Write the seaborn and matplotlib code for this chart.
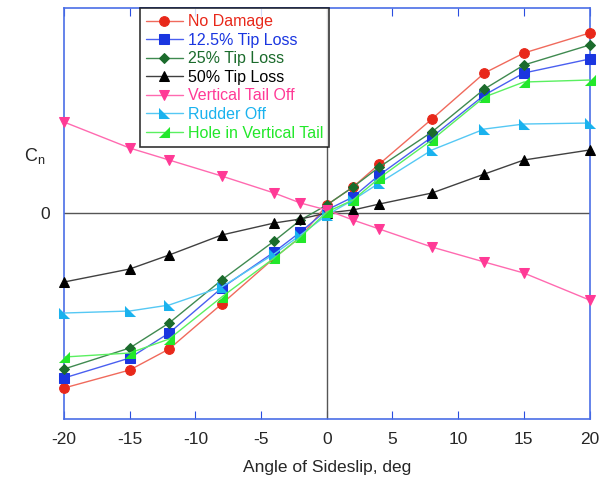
import numpy as np
import pandas as pd
import matplotlib
matplotlib.use('Agg')
import matplotlib.pyplot as plt
import seaborn as sns

# Data (Cn in arbitrary units)
beta = [-20, -15, -12, -8, -4, -2, 0, 2, 4, 8, 12, 15, 20]

no_damage = [-175, -157, -136, -91, -45, -24, 8, 26, 49, 94, 140, 160, 180]
tip_12 = [-165, -145, -120, -75, -39, -19, 3, 16, 38, 76, 118, 140, 154]
tip_25 = [-156, -135, -110, -67, -28, -7, 8, 26, 46, 81, 124, 148, 168]
tip_50 = [-69, -56, -42, -22, -10, -6, 0, 3, 9, 20, 39, 53, 63]
tail_off = [91, 65, 53, 37, 20, 10, 3, -7, -16, -34, -49, -60, -87]
rudder_off = [-100, -98, -92, -74, -41, -22, -2, 13, 30, 63, 84, 89, 90]
hole_tail = [-144, -140, -126, -84, -45, -24, 1, 13, 35, 73, 116, 131, 133]

labels = ['No Damage', '12.5% Tip Loss', '25% Tip Loss', '50% Tip Loss',
          'Vertical Tail Off', 'Rudder Off', 'Hole in Vertical Tail']
series = [no_damage, tip_12, tip_25, tip_50, tail_off, rudder_off, hole_tail]
colors = ['#e8281a', '#1a36e0', '#1b6b2c', '#000000', '#ff3a96', '#1ab2ee', '#22e82a']
line_colors = ['#f06a5c', '#4a5ff0', '#3f8a50', '#404040', '#ff6ab0', '#55c8f4', '#5af060']
markers = ['o', 's', 'D', '^', 'v',
           [(-1, 1), (-1, -1), (1, -1)],
           [(-1, -1), (1, -1), (1, 1)]]
msizes = [7, 6.5, 5.5, 7, 7, 7.5, 7.5]

sns.set_style('white')
plt.rcParams['font.family'] = ['Liberation Sans', 'DejaVu Sans']
plt.rcParams['axes.unicode_minus'] = False

fig = plt.figure(figsize=(6.05, 4.78), dpi=100)
ax = fig.add_axes([0.1058, 0.1234, 0.8686, 0.8598])

ax.axhline(0, color='#555555', lw=1, zorder=1)
ax.axvline(0, color='#555555', lw=1, zorder=1)

for lab, vals, c, lc, m, ms in zip(labels, series, colors, line_colors, markers, msizes):
    df = pd.DataFrame({'beta': beta, 'cn': vals})
    sns.lineplot(data=df, x='beta', y='cn', ax=ax, color=lc, lw=1,
                 marker=m, markersize=ms, markerfacecolor=c,
                 markeredgecolor=c, label=lab, zorder=3, clip_on=False)

ax.set_xlim(-20, 20)
ax.set_ylim(-206, 205)
ax.set_xticks(range(-20, 21, 5))
ax.set_yticks([0])
ax.set_yticklabels(['0'])
ax.tick_params(axis='x', direction='in', length=6, color='#2a4ee0',
               top=True, bottom=True, labelsize=12.5, pad=9)
ax.tick_params(axis='y', length=0, labelsize=12.5, pad=10)
for s in ax.spines.values():
    s.set_color('#4a6ee6')
    s.set_linewidth(1.2)

ax.set_xlabel('Angle of Sideslip, deg', fontsize=12.5, labelpad=10)
ax.set_ylabel('C$_\\mathregular{n}$', fontsize=13, rotation=0, labelpad=0)
ax.yaxis.set_label_coords(-0.055, 0.615)

leg = ax.legend(loc='upper left', bbox_to_anchor=(0.144, 1.0), fontsize=11.5,
                frameon=True, fancybox=False, edgecolor='black',
                handlelength=2.3, handletextpad=0.3, labelspacing=0.22,
                borderpad=0.4, borderaxespad=0)
leg.get_frame().set_linewidth(1.2)
for t, c in zip(leg.get_texts(), colors):
    t.set_color(c)

fig.savefig('out.png', dpi=100)
